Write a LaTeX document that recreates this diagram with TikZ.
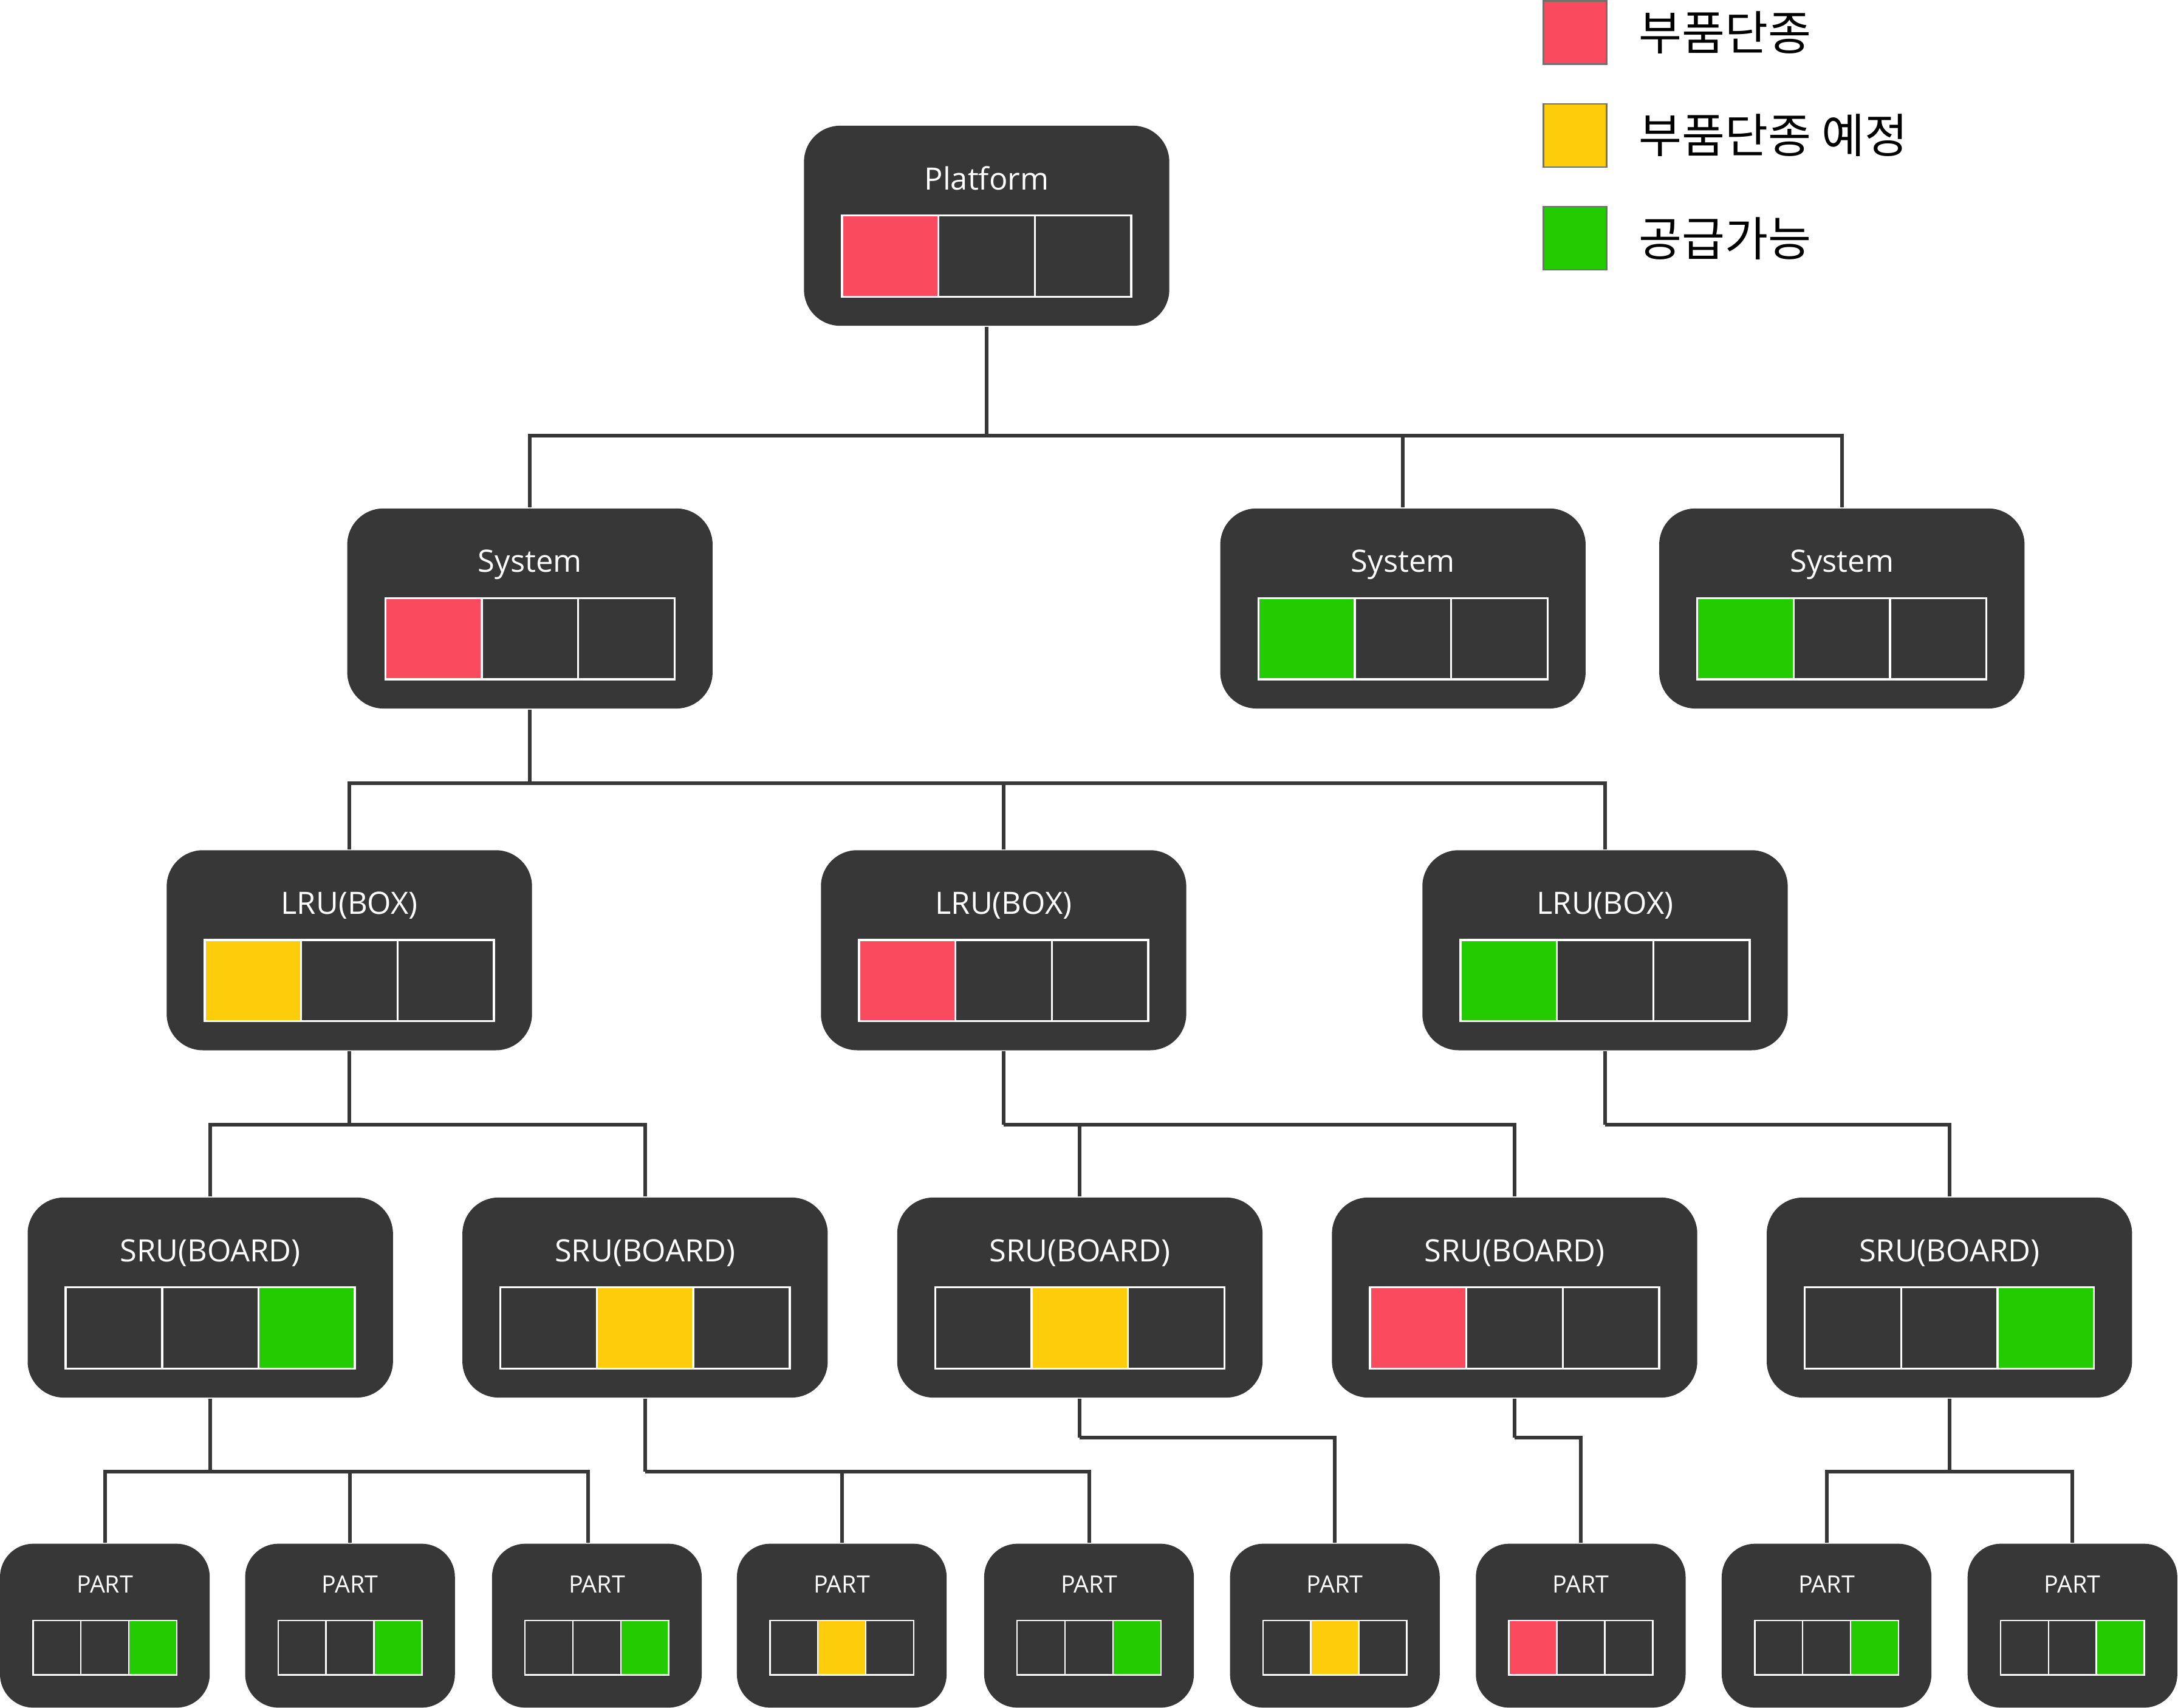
\documentclass[tikz,border=0pt]{standalone}
\usepackage{fontspec}
\usepackage{tikz}
\usepackage{xcolor}
\usetikzlibrary{positioning}

\setmainfont{Open Sans}
\newfontfamily\krfont{Noto Sans CJK KR}

\definecolor{boxgray}{HTML}{373737}
\definecolor{keygray}{HTML}{707070}
\definecolor{stopped}{HTML}{FA4B5E}
\definecolor{planned}{HTML}{FDCC0B}
\definecolor{supply}{HTML}{22CC00}

\begin{document}
\begin{tikzpicture}[
        unit/.style={rectangle, rounded corners=2.6mm, fill=boxgray, minimum width=2.63cm, minimum height=1.44cm, inner sep=0},
        part/.style={rectangle, rounded corners=2.4mm, fill=boxgray, minimum width=1.51cm, minimum height=1.18cm, inner sep=0},
        title/.style={text=white, anchor=base, inner sep=0, font=\fontsize{6.3}{8}\selectfont},
        parttitle/.style={title, font=\fontsize{4.9}{6}\selectfont},
        cell/.style={draw=white, line width=0.42pt, minimum width=0.694cm, minimum height=0.585cm, inner sep=0},
        smallcell/.style={draw=white, line width=0.32pt, minimum width=0.345cm, minimum height=0.39cm, inner sep=0},
        link/.style={draw=boxgray, line width=0.74pt},
        key/.style={draw=keygray, line width=0.34pt, minimum width=0.455cm, minimum height=0.455cm, inner sep=0},
        keytext/.style={anchor=west, inner sep=0, font=\krfont\fontsize{9.6}{11}\selectfont}
    ]
        \useasboundingbox (0,0) rectangle (15.68,-12.294);

        % legend
        \node[key, fill=stopped] (k1) at (11.338,-0.235) {};
        \node[key, fill=planned] (k2) at (11.338,-0.975) {};
        \node[key, fill=supply] (k3) at (11.338,-1.715) {};
        \node[keytext, right=2.2mm of k1] (t1) {부품단종};
        \node[keytext, right=2.2mm of k2] (t2) {부품단종 예정};
        \node[keytext, right=2.2mm of k3] (t3) {공급가능};

        % platform, systems, LRUs and SRUs with their three status cells
        \foreach \n/\x/\y/\t/\ca/\cb/\cc in {
                plat/7.103/-1.625/Platform/stopped/boxgray/boxgray,
                sys1/3.815/-4.38/System/stopped/boxgray/boxgray,
                sys2/10.10/-4.38/System/supply/boxgray/boxgray,
                sys3/13.26/-4.38/System/supply/boxgray/boxgray,
                lru1/2.515/-6.84/{LRU(BOX)}/planned/boxgray/boxgray,
                lru2/7.225/-6.84/{LRU(BOX)}/stopped/boxgray/boxgray,
                lru3/11.555/-6.84/{LRU(BOX)}/supply/boxgray/boxgray,
                sru1/1.514/-9.34/{SRU(BOARD)}/boxgray/boxgray/supply,
                sru2/4.644/-9.34/{SRU(BOARD)}/boxgray/planned/boxgray,
                sru3/7.774/-9.34/{SRU(BOARD)}/boxgray/planned/boxgray,
                sru4/10.904/-9.34/{SRU(BOARD)}/stopped/boxgray/boxgray,
                sru5/14.034/-9.34/{SRU(BOARD)}/boxgray/boxgray/supply} {
            \node[unit] (\n) at (\x,\y) {};
            \node[title] at ([yshift=2.6mm]\n.center) {\t};
            \node[cell, fill=\ca] at ([xshift=-6.94mm, yshift=-2.18mm]\n.center) {};
            \node[cell, fill=\cb] at ([yshift=-2.18mm]\n.center) {};
            \node[cell, fill=\cc] at ([xshift=6.94mm, yshift=-2.18mm]\n.center) {};
        }

        % parts
        \foreach \n/\x/\ca/\cb/\cc in {
                part1/0.755/boxgray/boxgray/supply,
                part2/2.52/boxgray/boxgray/supply,
                part3/4.297/boxgray/boxgray/supply,
                part4/6.06/boxgray/planned/boxgray,
                part5/7.84/boxgray/boxgray/supply,
                part6/9.61/boxgray/planned/boxgray,
                part7/11.38/stopped/boxgray/boxgray,
                part8/13.15/boxgray/boxgray/supply,
                part9/14.92/boxgray/boxgray/supply} {
            \node[part] (\n) at (\x,-11.702) {};
            \node[parttitle] at ([yshift=2.38mm]\n.center) {PART};
            \node[smallcell, fill=\ca] at ([xshift=-3.45mm, yshift=-1.58mm]\n.center) {};
            \node[smallcell, fill=\cb] at ([yshift=-1.58mm]\n.center) {};
            \node[smallcell, fill=\cc] at ([xshift=3.45mm, yshift=-1.58mm]\n.center) {};
        }

        % tree lines
        \draw[link] (plat.south) -- ++(0,-0.785) coordinate (bus0);
        \draw[link] (bus0) -| (sys1.north)
            (bus0) -| (sys2.north)
            (bus0) -| (sys3.north);

        \draw[link] (sys1.south) -- ++(0,-0.53) coordinate (bus1);
        \draw[link] (bus1) -| (lru1.north)
            (bus1) -| (lru2.north)
            (bus1) -| (lru3.north);

        \draw[link] (lru1.south) -- ++(0,-0.527) coordinate (bus2);
        \draw[link] (bus2) -| (sru1.north)
            (bus2) -| (sru2.north);
        \draw[link] (lru2.south) -- ++(0,-0.527) coordinate (bus3);
        \draw[link] (bus3) -| (sru3.north)
            (bus3) -| (sru4.north);
        \draw[link] (lru3.south) -- ++(0,-0.527) coordinate (bus4);
        \draw[link] (bus4) -| (sru5.north);

        \draw[link] (sru1.south) -- ++(0,-0.527) coordinate (bus5);
        \draw[link] (bus5) -| (part1.north)
            (bus5) -| (part2.north)
            (bus5) -| ([xshift=-0.65mm]part3.north);
        \draw[link] (sru2.south) -- ++(0,-0.527) coordinate (bus6);
        \draw[link] (bus6) -| (part4.north)
            (bus6) -| (part5.north);
        \draw[link] (sru3.south) -- ++(0,-0.28) coordinate (bus7);
        \draw[link] (bus7) -| (part6.north);
        \draw[link] (sru4.south) -- ++(0,-0.28) coordinate (bus8);
        \draw[link] (bus8) -| (part7.north);
        \draw[link] (sru5.south) -- ++(0,-0.527) coordinate (bus9);
        \draw[link] (bus9) -| (part8.north)
            (bus9) -| (part9.north);
    \end{tikzpicture}
\end{document}
